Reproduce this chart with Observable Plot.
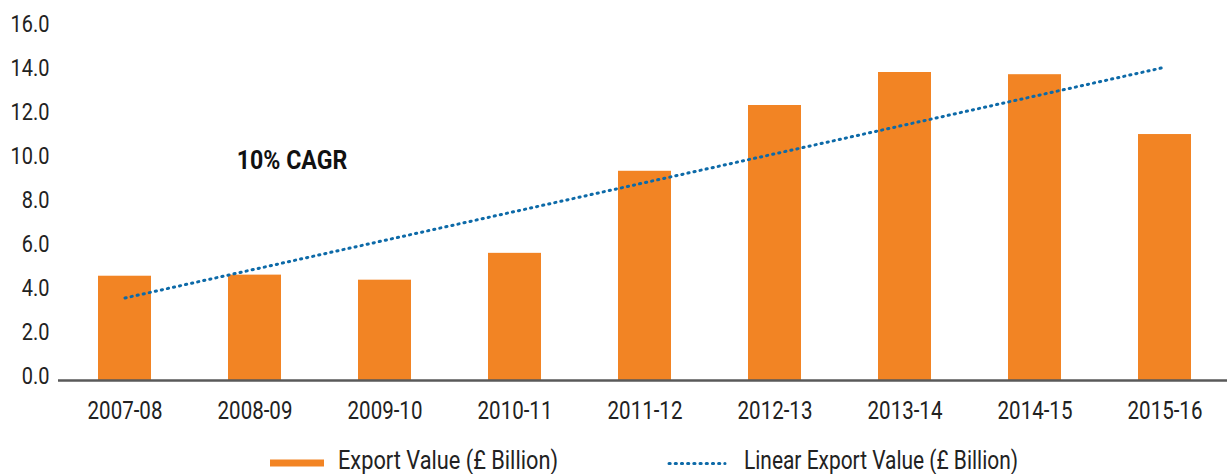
<!DOCTYPE html>
<html>
<head>
<meta charset="utf-8">
<script src="https://cdn.jsdelivr.net/npm/d3@7"></script>
<script src="https://cdn.jsdelivr.net/npm/@observablehq/plot@0.6"></script>
<style>
  html, body { margin: 0; padding: 0; background: #fff; }
  body { font-family: Roboto, "Liberation Sans", sans-serif; color: #222; width: 1227px; }
  svg { display: block; }
</style>
</head>
<body>
<div id="chart"></div>
<div id="legend"></div>
<script>
// ---- data ----
const categories = ["2007-08", "2008-09", "2009-10", "2010-11", "2011-12", "2012-13", "2013-14", "2014-15", "2015-16"];
const exportValues = [4.74, 4.79, 4.56, 5.78, 9.51, 12.5, 14.0, 13.9, 11.18];
// linear trend line end points (first and last period)
const trendCategories = ["2007-08", "2015-16"];
const trendValues = [3.75, 14.24];
const yTicks = [0, 2, 4, 6, 8, 10, 12, 14, 16];
const annotationText = ["10% CAGR"];
const annotationCategory = ["2008-09"];
const annotationValue = [10.0];
const seriesNames = ["Export Value (£ Billion)", "Linear Export Value (£ Billion)"];

const ORANGE = "#F28424";
const BLUE = "#0D6AA8";

const bars = categories.map((c, i) => ({category: c, value: exportValues[i]}));
const trend = trendCategories.map((c, i) => ({category: c, value: trendValues[i]}));
const notes = annotationText.map((t, i) => ({text: t, category: annotationCategory[i], value: annotationValue[i]}));

const chart = Plot.plot({
  width: 1227,
  height: 430,
  marginTop: 28,
  marginBottom: 50,
  marginLeft: 58,
  marginRight: 0,
  style: {fontFamily: "Roboto, sans-serif", color: "#222", background: "#fff"},
  x: {domain: categories, range: [58, 1230], paddingInner: 0.593, paddingOuter: 0.2965, align: 0.5, label: null},
  y: {domain: [0, 16], label: null},
  marks: [
    Plot.barY(bars, {x: "category", y: "value", fill: ORANGE}),
    Plot.line(trend, {x: "category", y: "value", stroke: BLUE, strokeWidth: 3, strokeDasharray: "1.2,5", strokeLinecap: "round"}),
    Plot.ruleY([0], {stroke: "#595959", strokeWidth: 2.5}),
    Plot.text(notes, {x: "category", y: "value", text: "text", dx: 37, fontSize: 26, fontWeight: "bold", fill: "#111", textAnchor: "middle"}),
    Plot.axisY({ticks: yTicks, tickFormat: d3.format(".1f"), tickSize: 0, tickPadding: 9, fontSize: 23.5, dy: -4, label: null, fill: "#222"}),
    Plot.axisX({tickSize: 0, tickPadding: 20, fontSize: 26.3, label: null, fill: "#222"})
  ]
});
document.getElementById("chart").appendChild(chart);

// condensed appearance: compress glyphs horizontally
function condense(selector, factor) {
  chart.querySelectorAll(selector).forEach(t => {
    const len = t.getComputedTextLength();
    t.setAttribute("textLength", (len * factor).toFixed(2));
    t.setAttribute("lengthAdjust", "spacingAndGlyphs");
  });
}
condense('[aria-label="y-axis tick label"] text', 0.85);
condense('[aria-label="x-axis tick label"] text', 0.78);
condense('[aria-label="text"] text', 0.89);

// legend
const ns = "http://www.w3.org/2000/svg";
const leg = document.createElementNS(ns, "svg");
leg.setAttribute("width", 1227);
leg.setAttribute("height", 44);
const mk = (tag, attrs) => { const e = document.createElementNS(ns, tag); for (const k in attrs) e.setAttribute(k, attrs[k]); leg.appendChild(e); return e; };
mk("rect", {x: 270, y: 29.5, width: 54, height: 7, fill: ORANGE});
const t1 = mk("text", {x: 338, y: 38.5, "font-size": 25, "font-family": "Roboto, sans-serif", fill: "#222", textLength: 220, lengthAdjust: "spacingAndGlyphs"});
t1.textContent = seriesNames[0];
mk("line", {x1: 669, x2: 725, y1: 33.5, y2: 33.5, stroke: BLUE, "stroke-width": 3, "stroke-dasharray": "1.2,5", "stroke-linecap": "round"});
const t2 = mk("text", {x: 744, y: 38.5, "font-size": 25, "font-family": "Roboto, sans-serif", fill: "#222", textLength: 274, lengthAdjust: "spacingAndGlyphs"});
t2.textContent = seriesNames[1];
document.getElementById("legend").appendChild(leg);
</script>
</body>
</html>
